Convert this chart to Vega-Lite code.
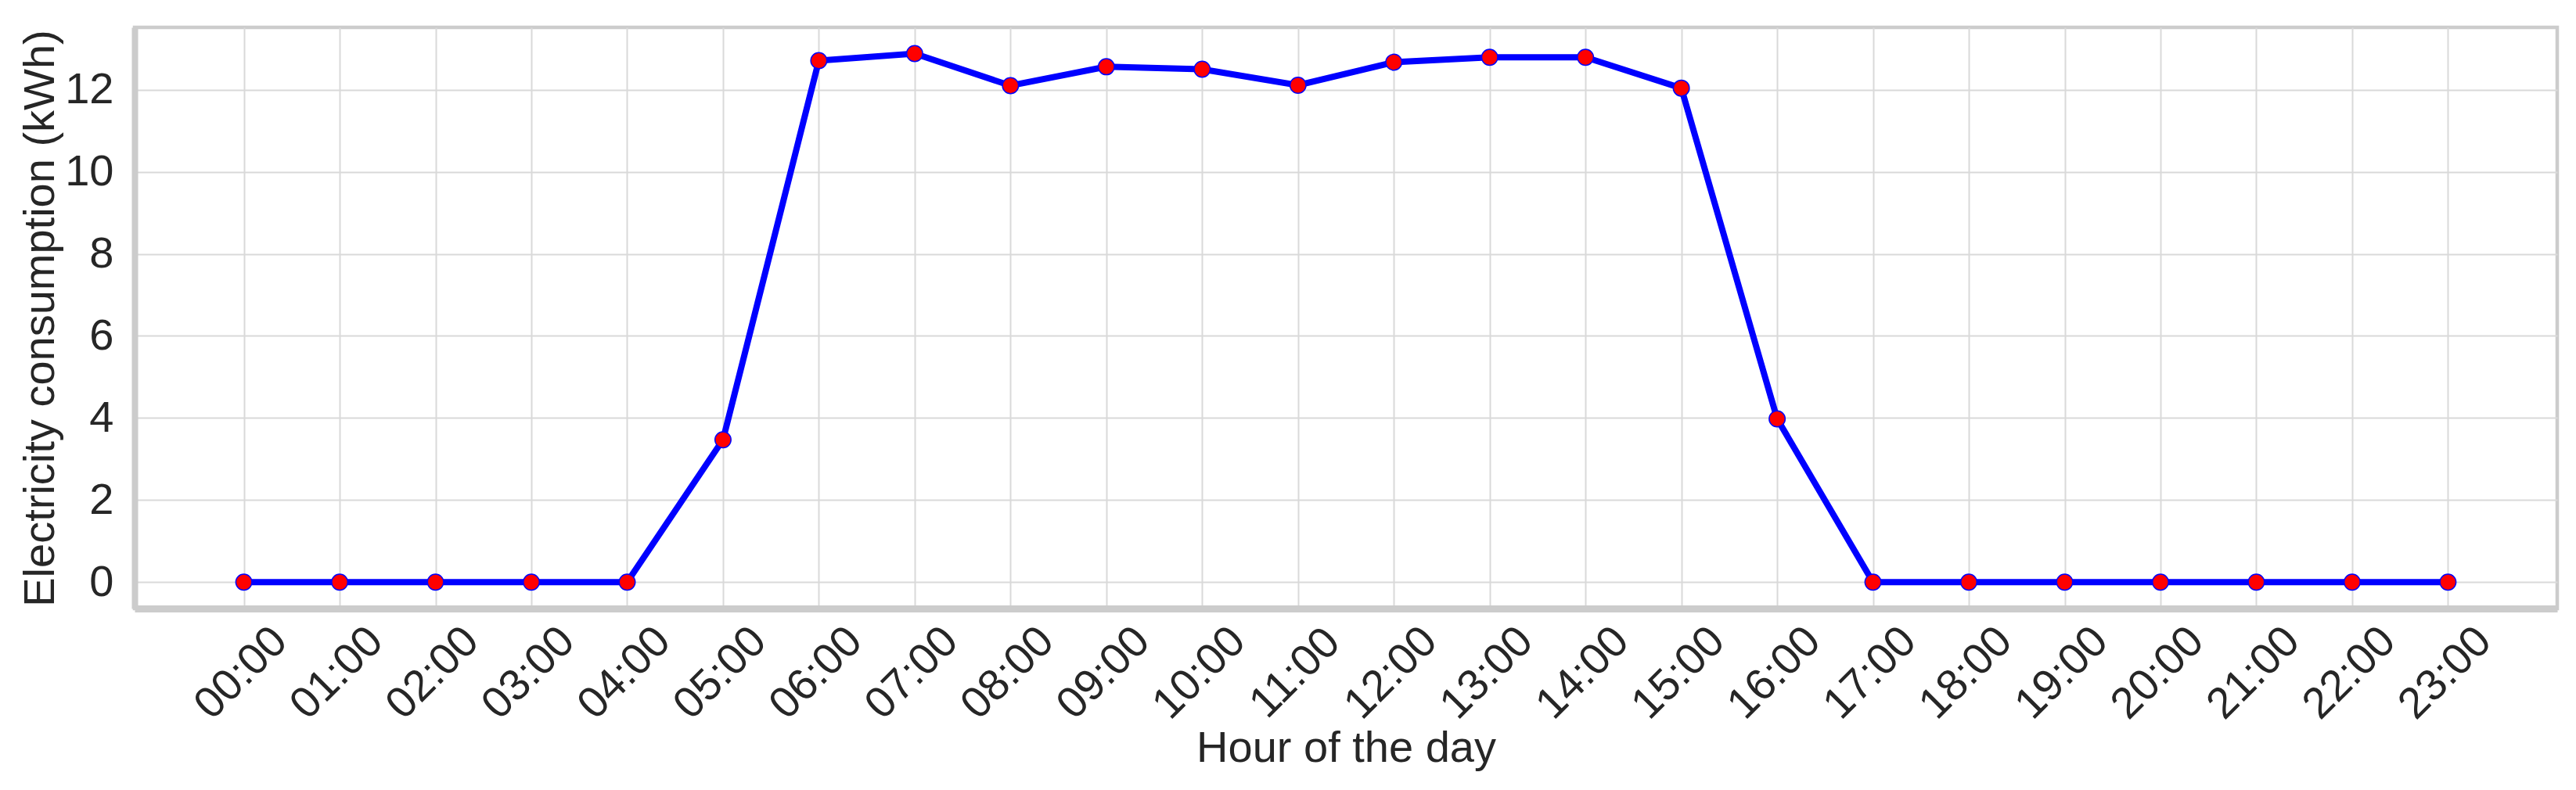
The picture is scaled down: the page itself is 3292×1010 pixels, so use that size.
{
  "$schema": "https://vega.github.io/schema/vega-lite/v6.json",
  "width": 3096,
  "height": 743,
  "autosize": {"type": "none"},
  "padding": {"left": 172, "top": 35, "right": 24, "bottom": 232},
  "background": "white",
  "config": {
    "view": {"stroke": "#cccccc", "strokeWidth": 4.5},
    "font": "Liberation Sans",
    "axis": {
      "labelFont": "Liberation Sans",
      "titleFont": "Liberation Sans",
      "labelFontSize": 56,
      "titleFontSize": 56,
      "labelColor": "#262626",
      "titleColor": "#262626",
      "titleFontWeight": "normal",
      "gridColor": "#d9d9d9",
      "gridWidth": 2,
      "domainColor": "#cccccc",
      "ticks": false,
      "tickSize": 0
    }
  },
  "data": {
    "values": [
      {"hour": 0, "kwh": 0},
      {"hour": 1, "kwh": 0},
      {"hour": 2, "kwh": 0},
      {"hour": 3, "kwh": 0},
      {"hour": 4, "kwh": 0},
      {"hour": 5, "kwh": 3.47},
      {"hour": 6, "kwh": 12.71},
      {"hour": 7, "kwh": 12.88},
      {"hour": 8, "kwh": 12.1},
      {"hour": 9, "kwh": 12.56},
      {"hour": 10, "kwh": 12.5},
      {"hour": 11, "kwh": 12.11},
      {"hour": 12, "kwh": 12.67},
      {"hour": 13, "kwh": 12.79},
      {"hour": 14, "kwh": 12.79},
      {"hour": 15, "kwh": 12.04},
      {"hour": 16, "kwh": 3.98},
      {"hour": 17, "kwh": 0},
      {"hour": 18, "kwh": 0},
      {"hour": 19, "kwh": 0},
      {"hour": 20, "kwh": 0},
      {"hour": 21, "kwh": 0},
      {"hour": 22, "kwh": 0},
      {"hour": 23, "kwh": 0}
    ]
  },
  "encoding": {
    "x": {
      "field": "hour",
      "type": "quantitative",
      "scale": {"domain": [-1.14, 24.14], "nice": false, "zero": false},
      "axis": {
        "title": "Hour of the day",
        "values": [0, 1, 2, 3, 4, 5, 6, 7, 8, 9, 10, 11, 12, 13, 14, 15, 16, 17, 18, 19, 20, 21, 22, 23],
        "labelExpr": "(datum.value < 10 ? '0' : '') + datum.value + ':00'",
        "labelAngle": -45,
        "labelAlign": "center",
        "labelBaseline": "middle",
        "labelPadding": 82,
        "labelOffset": -4,
        "labelFlush": false,
        "labelOverlap": false,
        "titlePadding": 0,
        "domainWidth": 9,
        "grid": true
      }
    },
    "y": {
      "field": "kwh",
      "type": "quantitative",
      "scale": {"domain": [-0.644, 13.52], "nice": false, "zero": false},
      "axis": {
        "title": "Electricity consumption (kWh)",
        "values": [0, 2, 4, 6, 8, 10, 12],
        "labelPadding": 27,
        "labelFlush": false,
        "titlePadding": 2,
        "domainWidth": 8,
        "grid": true
      }
    }
  },
  "layer": [
    {"mark": {"type": "line", "color": "#0000ff", "strokeWidth": 8}},
    {"mark": {"type": "point", "filled": true, "fill": "#ff0000", "stroke": "#0000ff", "strokeWidth": 1.5, "size": 420, "opacity": 1}}
  ]
}
